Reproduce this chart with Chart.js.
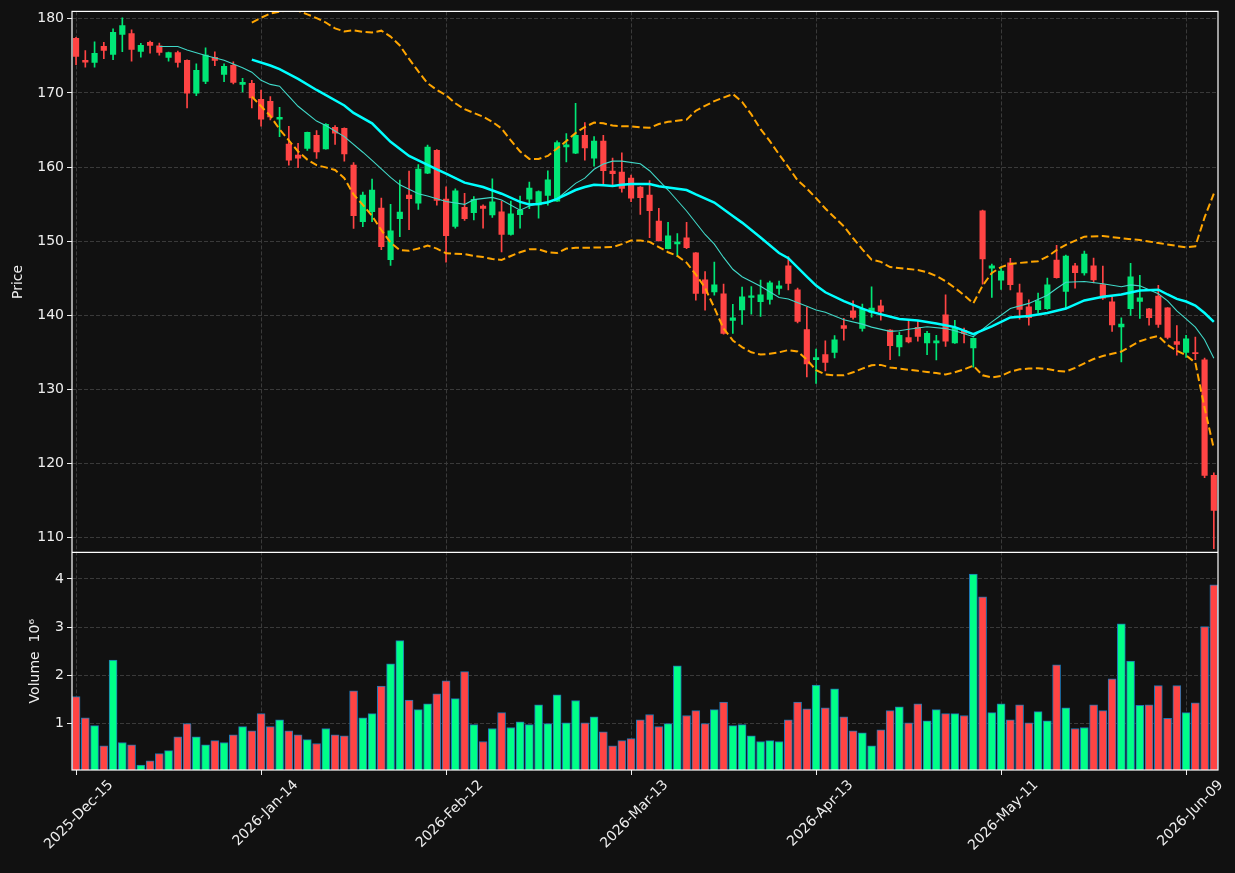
<!DOCTYPE html>
<html>
<head>
<meta charset="utf-8">
<script src="https://cdn.jsdelivr.net/npm/chart.js@4.4.1/dist/chart.umd.min.js"></script>
<style>
html,body{margin:0;padding:0;background:#111111;}
canvas{display:block;}
</style>
</head>
<body>
<canvas id="c" width="1235" height="873" style="width:1235px;height:873px"></canvas>
<script>
// ---------------- data ----------------
const tickIndex = [0, 20, 40, 60, 80, 100, 120];
const tickText = ['2025-Dec-15', '2026-Jan-14', '2026-Feb-12', '2026-Mar-13', '2026-Apr-13', '2026-May-11', '2026-Jun-09'];
const priceTicks = [110, 120, 130, 140, 150, 160, 170, 180];
const volumeTicks = [1, 2, 3, 4];

const openP = [177.35,174.39,174.12,176.27,175.19,177.89,178.02,175.6,176.81,176.36,
174.79,175.46,174.39,169.95,171.56,174.79,172.5,173.71,171.16,171.3,
169.14,168.86,166.45,163.08,161.6,162.5,164.29,162.45,165.37,165.23,
160.25,152.62,153.97,154.46,147.51,153.03,156.21,155.14,159.18,162.27,
155.68,152.0,154.55,153.85,154.72,153.55,153.94,150.89,153.58,155.68,
154.9,156.17,155.41,162.72,161.87,164.29,161.2,163.49,159.46,159.32,
158.5,157.29,156.21,152.72,148.99,149.62,150.43,148.41,144.78,143.16,
142.89,139.3,140.73,142.4,141.82,142.13,143.61,146.67,143.43,138.05,
134.0,134.68,135.0,138.59,140.6,138.23,140.39,141.28,138.0,135.72,
136.98,138.37,136.27,136.27,140.07,136.27,137.96,135.59,154.1,146.35,
144.72,147.06,143.03,141.15,140.75,140.88,147.46,143.2,146.66,145.72,
146.66,144.14,141.81,138.44,140.88,141.85,140.88,142.57,141.01,136.44,
134.99,134.95,134.0,118.39];
const highP = [177.5,175.73,176.9,176.81,178.65,180.13,178.52,176.68,176.99,176.72,
175.5,175.64,174.45,173.94,176.09,175.55,173.94,174.21,171.97,171.7,
170.4,169.5,168.06,165.5,163.21,164.7,164.92,165.86,165.59,165.3,
160.61,156.61,158.37,155.8,154.96,158.23,159.44,160.34,162.95,162.35,
157.34,157.05,156.44,156.0,154.9,158.4,155.4,155.4,156.08,157.97,
156.79,159.49,163.54,164.5,168.6,165.99,164.11,164.29,161.2,161.9,
158.9,157.35,158.18,154.42,152.54,151.01,152.54,148.45,145.9,147.16,
144.19,141.46,143.79,143.88,144.73,144.6,144.6,147.92,143.66,141.06,
135.45,136.56,137.24,139.57,141.95,141.5,143.83,142.04,138.05,137.73,
139.3,139.17,137.83,137.29,142.76,139.3,138.28,136.95,154.2,146.9,
146.5,147.68,144.2,142.09,142.99,145.0,149.43,148.13,147.01,148.67,
147.73,146.62,142.48,139.66,147.0,145.37,140.95,144.05,141.05,138.6,
137.28,137.06,134.23,118.75];
const lowP = [173.8,173.49,173.49,174.61,174.48,175.55,174.3,174.84,175.37,175.1,
174.3,173.49,167.97,169.63,171.25,173.67,171.52,171.2,170.13,167.97,
165.5,166.35,164.11,160.25,159.9,162.23,161.15,162.4,163.04,160.8,
151.73,151.95,152.62,148.86,146.71,150.61,151.55,154.28,159.1,154.87,
147.15,151.74,152.79,152.87,151.74,153.19,148.56,150.8,151.74,154.37,
153.1,154.86,155.35,160.7,161.8,160.94,160.1,157.75,157.53,156.6,
155.32,153.62,150.47,150.0,148.95,147.92,148.99,142.04,140.7,142.71,
137.46,137.55,138.76,140.15,139.84,141.5,142.8,143.43,138.95,131.68,
130.8,132.5,134.24,136.65,139.48,137.86,139.75,139.35,134.0,134.5,
136.27,136.49,134.68,133.97,135.81,136.2,136.27,133.0,144.2,142.4,
143.48,143.43,139.48,138.67,140.3,140.8,145.0,140.84,143.66,145.4,
144.37,142.14,137.81,133.69,139.98,139.57,138.67,138.35,136.8,134.6,
134.3,134.0,118.07,108.5];
const closeP = [174.93,174.16,175.33,175.73,178.16,179.1,175.87,176.41,176.41,175.46,
175.46,174.12,169.95,173.04,175.1,174.39,173.58,171.43,171.43,169.32,
166.47,166.76,166.7,160.93,161.2,164.69,162.05,165.77,164.56,161.78,
153.43,156.21,156.88,149.26,151.38,153.93,155.72,159.71,162.68,155.5,
150.75,156.8,153.03,155.64,154.4,155.32,150.89,153.67,154.17,157.16,
156.7,158.28,163.31,163.0,164.29,162.59,163.49,159.5,159.1,157.1,
155.8,155.86,154.11,150.08,150.7,149.89,149.13,142.94,142.94,144.1,
137.55,139.66,142.49,142.62,142.76,144.37,143.97,144.28,139.17,133.43,
134.3,133.65,136.7,138.23,139.7,140.8,140.97,140.52,135.9,137.29,
136.4,137.16,137.56,136.54,136.49,138.32,137.56,136.89,147.6,146.66,
145.97,144.14,140.79,139.67,141.96,144.1,145.08,148.0,145.76,148.27,
144.77,142.3,138.71,138.8,145.19,142.34,139.67,138.75,137.02,136.08,
136.83,134.81,118.39,113.68];
// volume in millions
const volumeM = [1.56,1.12,0.96,0.54,2.32,0.61,0.56,0.14,0.23,0.38,
0.44,0.73,1.0,0.73,0.56,0.65,0.61,0.77,0.94,0.85,
1.21,0.94,1.08,0.85,0.77,0.67,0.59,0.9,0.77,0.75,
1.68,1.12,1.21,1.78,2.24,2.72,1.49,1.29,1.41,1.62,
1.89,1.52,2.08,0.98,0.63,0.9,1.23,0.92,1.04,0.98,
1.39,1.0,1.6,1.02,1.48,1.02,1.14,0.83,0.54,0.65,
0.69,1.08,1.19,0.94,1.0,2.2,1.17,1.27,1.0,1.29,
1.45,0.96,0.98,0.75,0.63,0.65,0.63,1.08,1.45,1.31,
1.8,1.33,1.72,1.14,0.85,0.81,0.54,0.87,1.27,1.35,
1.02,1.41,1.06,1.29,1.21,1.21,1.17,4.1,3.63,1.23,
1.41,1.08,1.39,1.02,1.25,1.06,2.22,1.33,0.9,0.92,
1.39,1.27,1.93,3.07,2.3,1.38,1.39,1.79,1.11,1.79,
1.23,1.43,3.01,3.88];

// moving-average lines and bands at bar indices
const ma20Idx = [19,21,22,24,26,29,30,32,34,36,37,39,40,42,44,46,48,49,50,51,52,54,55,56,57,58,59,60,62,63,66,67,69,71,72,74,76,77,79,80,81,83,85,86,89,91,93,95,97,99,101,103,105,107,109,111,113,115,117,118,119,120,121,122,123];
const ma20Val = [174.5,173.7,173.2,171.9,170.4,168.3,167.3,165.9,163.4,161.5,160.9,159.7,159.1,157.9,157.3,156.4,155.3,154.95,155.0,155.25,155.7,156.9,157.3,157.6,157.55,157.45,157.6,157.7,157.7,157.4,156.9,156.3,155.2,153.4,152.5,150.5,148.4,147.7,145.2,144.0,143.1,141.9,140.9,140.45,139.5,139.3,138.9,138.4,137.45,138.5,139.7,139.9,140.3,140.9,142.0,142.5,142.8,143.35,143.45,142.8,142.2,141.85,141.3,140.3,139.1];

const ma10Idx = [9,11,12,14,16,18,19,20,21,22,24,26,27,29,31,32,34,35,37,38,40,42,43,45,46,48,49,50,51,52,54,55,56,57,58,59,61,62,64,66,68,69,70,71,72,74,76,77,79,80,81,83,85,86,88,89,90,92,94,95,97,99,101,103,105,106,107,109,111,113,114,115,117,118,119,120,121,122,123];
const ma10Val = [176.27,176.27,175.8,175.06,174.4,173.4,172.8,171.7,171.15,170.9,168.2,166.2,165.6,164.1,162.0,160.9,158.6,157.6,156.4,156.1,155.35,154.96,155.6,155.9,155.55,154.17,154.74,155.05,155.2,155.7,157.8,158.5,159.7,160.4,160.8,160.8,160.45,159.5,156.9,154.07,150.9,149.6,147.8,146.2,145.2,143.9,142.4,142.2,141.2,140.7,140.4,139.4,138.8,138.4,137.82,137.9,138.1,138.45,138.2,137.9,137.1,139.1,140.9,141.6,142.7,143.6,144.45,144.55,144.25,143.85,144.1,143.97,142.9,141.95,140.6,139.5,138.4,136.7,134.2];

const upperIdx = [19,20,21,22,23,24,25,26,27,28,29,30,31,32,33,34,35,36,37,38,39,40,41,42,43,44,45,46,47,48,49,50,51,52,53,54,55,56,57,58,59,60,61,62,63,64,66,67,69,71,72,73,74,75,76,77,78,79,80,81,82,83,84,85,86,87,88,90,91,92,93,94,95,96,97,98,99,100,101,102,104,105,106,107,109,111,113,115,117,119,120,121,122,123];
const upperVal = [179.5,180.15,180.7,180.95,181.2,181.1,180.6,180.1,179.5,178.7,178.3,178.45,178.25,178.15,178.4,177.6,176.4,174.6,172.9,171.3,170.4,169.7,168.6,167.8,167.3,166.8,166.1,165.2,163.6,162.1,161.1,161.1,161.5,162.5,163.5,164.6,165.4,166.0,165.9,165.6,165.5,165.5,165.35,165.3,165.8,166.1,166.4,167.6,168.9,169.85,168.8,167.1,165.1,163.5,161.7,160.0,158.2,157.1,155.8,154.4,153.2,152.0,150.4,148.9,147.5,147.2,146.5,146.25,146.1,145.8,145.3,144.6,143.7,142.7,141.6,144.0,145.7,146.5,146.9,147.06,147.3,147.9,148.8,149.5,150.6,150.7,150.4,150.15,149.75,149.35,149.15,149.3,153.2,156.4];

const lowerIdx = [19,20,21,22,23,24,25,26,27,28,29,30,31,32,33,34,35,36,37,38,39,40,41,42,43,44,45,46,47,48,49,50,51,52,53,54,56,58,59,60,61,62,63,64,65,66,67,68,69,70,71,72,73,74,75,76,77,78,79,80,81,82,83,84,85,86,87,88,89,90,91,92,93,94,95,96,97,98,99,100,101,102,103,104,105,106,107,108,109,110,111,112,113,114,115,116,117,118,119,120,121,122,123];
const lowerVal = [169.5,168.2,166.9,165.1,163.6,162.1,161.0,160.25,159.95,159.6,158.5,156.3,154.9,153.4,151.5,149.8,148.8,148.7,149.0,149.4,149.0,148.35,148.3,148.25,148.0,147.85,147.6,147.45,148.0,148.5,148.9,148.9,148.5,148.4,149.0,149.1,149.13,149.2,149.6,150.1,150.1,149.9,149.2,148.5,148.0,147.1,145.5,143.7,141.0,138.2,136.6,135.7,135.0,134.7,134.8,135.0,135.3,135.1,134.0,132.6,132.0,131.9,131.9,132.3,132.8,133.25,133.3,132.95,132.8,132.65,132.5,132.35,132.2,132.0,132.3,132.7,133.2,131.9,131.6,131.8,132.4,132.7,132.8,132.85,132.75,132.5,132.4,132.9,133.5,134.1,134.5,134.8,135.1,135.8,136.5,136.9,137.2,136.0,135.2,134.6,133.6,127.5,122.0];

// ---------------- styling ----------------
const BG = '#111111';
const UP = '#00e676', DOWN = '#ff4444';
const VOL_UP = '#00ff88', VOL_DOWN = '#ff4444';
const TXT = '#eeeeee';
const GRID = '#3a3a3a';
const FONT = {family: 'DejaVu Sans', size: 14};

const isUp = closeP.map((c, i) => c >= openP[i]);
const candleColors = isUp.map(u => u ? UP : DOWN);
const volColors = isUp.map(u => u ? VOL_UP : VOL_DOWN);

const bodyData = closeP.map((c, i) => ({x: i, y: [openP[i], c]}));
const wickData = closeP.map((c, i) => ({x: i, y: [lowP[i], highP[i]]}));
const volData = volumeM.map((v, i) => ({x: i, y: v}));
const pts = (ix, vals) => ix.map((x, k) => ({x: x, y: vals[k]}));

const bgPlugin = {
  id: 'bg',
  beforeDraw(chart) {
    const ctx = chart.ctx;
    ctx.save();
    ctx.fillStyle = BG;
    ctx.fillRect(0, 0, chart.width, chart.height);
    ctx.restore();
  }
};
const framePlugin = {
  id: 'frame',
  afterDraw(chart) {
    const ctx = chart.ctx, a = chart.chartArea, yp = chart.scales.y;
    ctx.save();
    ctx.strokeStyle = '#ffffff';
    ctx.lineWidth = 1.2;
    ctx.strokeRect(a.left, a.top, a.right - a.left, a.bottom - a.top);
    ctx.beginPath();
    ctx.moveTo(a.left, yp.bottom);
    ctx.lineTo(a.right, yp.bottom);
    ctx.stroke();
    ctx.restore();
  }
};

const gridOpts = {color: GRID, lineWidth: 1, tickColor: TXT, tickLength: 5, tickWidth: 1, tickBorderDash: [], offset: false};

new Chart(document.getElementById('c'), {
  type: 'bar',
  data: {
    datasets: [
      {type: 'line', label: 'MA20', data: pts(ma20Idx, ma20Val), yAxisID: 'y', borderColor: '#00ffff', borderWidth: 2.5, pointRadius: 0, tension: 0, order: 0},
      {type: 'line', label: 'MA10', data: pts(ma10Idx, ma10Val), yAxisID: 'y', borderColor: '#40d8c8', borderWidth: 1.1, pointRadius: 0, tension: 0, order: 1},
      {type: 'line', label: 'Upper', data: pts(upperIdx, upperVal), yAxisID: 'y', borderColor: '#ffa500', borderWidth: 2, borderDash: [7.5, 3.5], pointRadius: 0, tension: 0, order: 2},
      {type: 'line', label: 'Lower', data: pts(lowerIdx, lowerVal), yAxisID: 'y', borderColor: '#ffa500', borderWidth: 2, borderDash: [7.5, 3.5], pointRadius: 0, tension: 0, order: 2},
      {label: 'Body', data: bodyData, yAxisID: 'y', backgroundColor: candleColors, borderWidth: 0, barThickness: 5.5, grouped: false, order: 4},
      {label: 'Wick', data: wickData, yAxisID: 'y', backgroundColor: candleColors, borderWidth: 0, barThickness: 1, grouped: false, order: 5},
      {label: 'Volume', data: volData, yAxisID: 'yv', backgroundColor: volColors, borderColor: '#1f77b4', borderWidth: 1, borderSkipped: false, barThickness: 8, grouped: false, order: 4}
    ]
  },
  options: {
    responsive: false,
    animation: false,
    devicePixelRatio: 1,
    layout: {padding: {top: 10, right: 17, left: 0, bottom: 0}},
    plugins: {legend: {display: false}, tooltip: {enabled: false}},
    scales: {
      x: {
        type: 'linear', min: -0.44, max: 123.45, offset: false,
        afterBuildTicks: s => { s.ticks = tickIndex.map(v => ({value: v})); },
        afterFit: s => { s.height = 103; },
        ticks: {
          autoSkip: false, minRotation: 45, maxRotation: 45, color: TXT, font: FONT,
          labelOffset: 35, padding: 2,
          callback: v => { const k = tickIndex.indexOf(v); return k >= 0 ? tickText[k] : ''; }
        },
        grid: gridOpts,
        border: {display: false, dash: [4, 2]}
      },
      y: {
        type: 'linear', position: 'left', stack: 'panels', stackWeight: 542, weight: 1,
        min: 108.0, max: 181.0,
        afterBuildTicks: s => { s.ticks = priceTicks.map(v => ({value: v})); },
        afterFit: s => { s.width = 72; },
        ticks: {color: TXT, font: FONT, padding: 3},
        grid: gridOpts,
        border: {display: false, dash: [4, 2]},
        title: {display: true, text: 'Price', color: TXT, font: FONT, padding: {top: 10, bottom: 0}}
      },
      yv: {
        type: 'linear', position: 'left', stack: 'panels', stackWeight: 218, weight: 0,
        min: 0.04, max: 4.55,
        afterBuildTicks: s => { s.ticks = volumeTicks.map(v => ({value: v})); },
        afterFit: s => { s.width = 72; },
        ticks: {color: TXT, font: FONT, padding: 3},
        grid: gridOpts,
        border: {display: false, dash: [4, 2]},
        title: {display: true, text: 'Volume  10⁶', color: TXT, font: FONT, padding: {top: 27, bottom: 0}}
      }
    }
  },
  plugins: [bgPlugin, framePlugin]
});
</script>
</body>
</html>
